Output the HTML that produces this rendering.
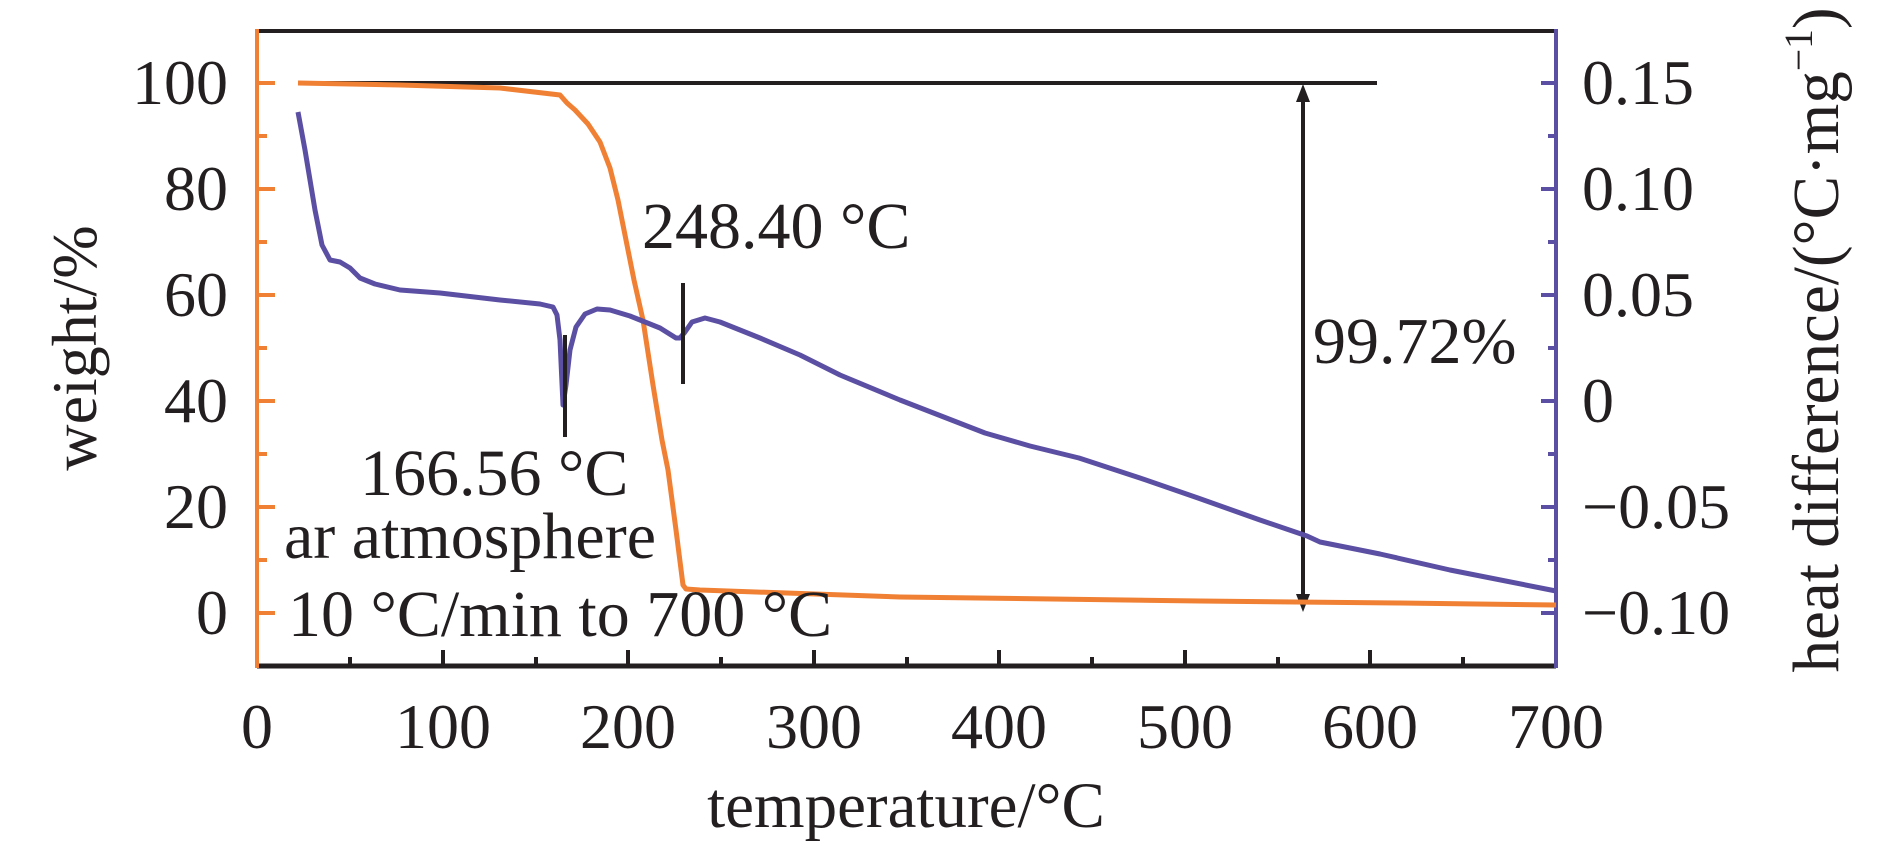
<!DOCTYPE html>
<html><head><meta charset="utf-8"><style>
html,body{margin:0;padding:0;background:#fff;}
svg{display:block;}
text{font-family:"Liberation Serif",serif;fill:#231f20;}
</style></head><body>
<svg width="1890" height="848" viewBox="0 0 1890 848" xmlns="http://www.w3.org/2000/svg">
<line x1="257" y1="31" x2="1556" y2="31" stroke="#231f20" stroke-width="4"/>
<line x1="257" y1="666" x2="1556" y2="666" stroke="#231f20" stroke-width="5"/>
<line x1="257" y1="29" x2="257" y2="668" stroke="#f08033" stroke-width="4"/>
<line x1="1556" y1="29" x2="1556" y2="668" stroke="#5b4fa3" stroke-width="4"/>
<g stroke="#f08033" stroke-width="4">
<line x1="257" y1="83" x2="275" y2="83"/><line x1="257" y1="136" x2="267" y2="136"/>
<line x1="257" y1="189" x2="275" y2="189"/><line x1="257" y1="242" x2="267" y2="242"/>
<line x1="257" y1="295" x2="275" y2="295"/><line x1="257" y1="348" x2="267" y2="348"/>
<line x1="257" y1="401" x2="275" y2="401"/><line x1="257" y1="454" x2="267" y2="454"/>
<line x1="257" y1="507" x2="275" y2="507"/><line x1="257" y1="560" x2="267" y2="560"/>
<line x1="257" y1="613" x2="275" y2="613"/>
</g>
<g stroke="#5b4fa3" stroke-width="4">
<line x1="1541" y1="83" x2="1556" y2="83"/><line x1="1548" y1="136" x2="1556" y2="136"/>
<line x1="1541" y1="189" x2="1556" y2="189"/><line x1="1548" y1="242" x2="1556" y2="242"/>
<line x1="1541" y1="295" x2="1556" y2="295"/><line x1="1548" y1="348" x2="1556" y2="348"/>
<line x1="1541" y1="401" x2="1556" y2="401"/><line x1="1548" y1="454" x2="1556" y2="454"/>
<line x1="1541" y1="507" x2="1556" y2="507"/><line x1="1548" y1="560" x2="1556" y2="560"/>
<line x1="1541" y1="613" x2="1556" y2="613"/>
</g>
<g stroke="#231f20" stroke-width="4">
<line x1="350" y1="666" x2="350" y2="657"/><line x1="443" y1="666" x2="443" y2="650"/>
<line x1="536" y1="666" x2="536" y2="657"/><line x1="628" y1="666" x2="628" y2="650"/>
<line x1="721" y1="666" x2="721" y2="657"/><line x1="814" y1="666" x2="814" y2="650"/>
<line x1="907" y1="666" x2="907" y2="657"/><line x1="999" y1="666" x2="999" y2="650"/>
<line x1="1092" y1="666" x2="1092" y2="657"/><line x1="1185" y1="666" x2="1185" y2="650"/>
<line x1="1278" y1="666" x2="1278" y2="657"/><line x1="1370" y1="666" x2="1370" y2="650"/>
<line x1="1463" y1="666" x2="1463" y2="657"/>
</g>
<g font-size="64" text-anchor="end">
<text x="228" y="104">100</text><text x="228" y="210">80</text><text x="228" y="316">60</text>
<text x="228" y="422">40</text><text x="228" y="528">20</text><text x="228" y="634">0</text>
</g>
<g font-size="64">
<text x="1582" y="104">0.15</text><text x="1582" y="210">0.10</text><text x="1582" y="316">0.05</text>
<text x="1582" y="422">0</text><text x="1582" y="528">−0.05</text><text x="1582" y="634">−0.10</text>
</g>
<g font-size="64" text-anchor="middle">
<text x="257" y="748">0</text><text x="443" y="748">100</text><text x="628" y="748">200</text>
<text x="814" y="748">300</text><text x="999" y="748">400</text><text x="1185" y="748">500</text>
<text x="1370" y="748">600</text><text x="1556" y="748">700</text>
</g>
<text x="906" y="827" font-size="65" text-anchor="middle">temperature/°C</text>
<text transform="translate(96,348) rotate(-90)" font-size="64" text-anchor="middle">weight/%</text>
<text transform="translate(1838,340) rotate(-90)" font-size="66" text-anchor="middle" textLength="665" lengthAdjust="spacingAndGlyphs">heat difference/(°C·mg<tspan font-size="40" dy="-26">−1</tspan><tspan dy="26">)</tspan></text>
<line x1="303" y1="83" x2="1377" y2="83" stroke="#231f20" stroke-width="4"/>
<line x1="1303" y1="95" x2="1303" y2="601" stroke="#231f20" stroke-width="4"/>
<polygon points="1303,84 1296,102 1310,102" fill="#231f20"/>
<polygon points="1303,612 1296,594 1310,594" fill="#231f20"/>
<polyline fill="none" stroke="#f08033" stroke-width="5" stroke-linejoin="round" points="298,83 400,85 500,88 560,95 567,103 575,110 588,124 600,142 610,168 618,200 626,240 634,280 643,320 653,385 662,440 668,470 676,530 683,585 686,589 700,590 900,597 1200,601 1400,603 1556,605"/>
<polyline fill="none" stroke="#5b4fa3" stroke-width="5" stroke-linejoin="round" points="298,112 305,150 315,210 322,245 330,260 340,262 350,268 360,278 375,284 400,290 440,293 500,300 540,304 553,307 557,315 560,340 563,405 566,385 570,350 576,327 585,314 597,309 610,310 630,316 660,328 676,338 680,338 685,332 692,322 705,318 720,322 760,338 800,355 840,375 900,400 985,433 1030,446 1079,458 1140,478 1198,498 1260,520 1307,536 1320,542 1380,554 1450,570 1556,591"/>
<line x1="565" y1="335" x2="565" y2="437" stroke="#231f20" stroke-width="4"/>
<line x1="683" y1="283" x2="683" y2="384" stroke="#231f20" stroke-width="4"/>
<g font-size="66">
<text x="642" y="248">248.40 °C</text>
<text x="360" y="495">166.56 °C</text>
<text x="284" y="558">ar atmosphere</text>
<text x="288" y="636">10 °C/min to 700 °C</text>
<text x="1313" y="363">99.72%</text>
</g>
</svg>
</body></html>
